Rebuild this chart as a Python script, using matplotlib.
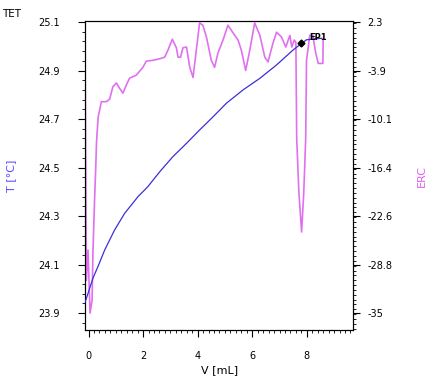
import numpy as np
import matplotlib.pyplot as plt
from matplotlib.ticker import FixedLocator, MultipleLocator

# temperature curve (left axis)
v_t = [-0.12, 0.16, 0.34, 0.59, 0.95, 1.32, 1.81, 2.17, 2.61, 3.09, 3.59,
       4.07, 4.56, 5.05, 5.66, 6.28, 6.89, 7.50, 7.81, 7.99, 8.17, 8.54]
temp = [23.947, 24.044, 24.091, 24.160, 24.242, 24.311, 24.380, 24.421, 24.483,
        24.545, 24.600, 24.655, 24.709, 24.765, 24.820, 24.868, 24.923, 24.985,
        25.012, 25.027, 25.029, 25.033]

# ERC curve (right axis)
v_erc = [-0.13, -0.10, -0.08, -0.02, 0.055, 0.13, 0.16, 0.22, 0.26, 0.29, 0.35,
         0.47, 0.65, 0.77, 0.89, 1.02, 1.14, 1.26, 1.38, 1.50, 1.75, 1.99,
         2.12, 2.36, 2.61, 2.79, 2.91, 3.07, 3.22, 3.28, 3.37, 3.46, 3.59,
         3.71, 3.83, 3.95, 4.07, 4.19, 4.32, 4.50, 4.62, 4.74, 4.93, 5.11,
         5.30, 5.48, 5.60, 5.76, 5.91, 6.09, 6.28, 6.46, 6.58, 6.76, 6.89,
         7.07, 7.23, 7.38, 7.45, 7.54, 7.60, 7.63, 7.71, 7.81, 7.89, 7.96,
         7.99, 8.11, 8.22, 8.33, 8.42, 8.59, 8.60]
erc = [0.0, -20.5, -30.8, -26.9, -35.0, -33.3, -27.2, -20.5, -16.7, -13.2, -9.9,
       -7.9, -7.9, -7.6, -6.0, -5.5, -6.2, -6.8, -5.8, -4.9, -4.5, -3.5,
       -2.7, -2.6, -2.4, -2.2, -1.3, 0.1, -1.0, -2.2, -2.2, -1.0, -0.9,
       -3.5, -4.8, -1.3, 2.2, 1.9, 0.4, -2.6, -3.5, -1.7, 0.0, 1.9,
       0.9, 0.0, -1.3, -3.9, -1.3, 2.2, 0.6, -2.2, -2.8, -0.4, 1.0,
       0.4, -0.9, 0.6, -0.9, 0.0, -0.3, -12.6, -19.5, -24.6, -19.5, -12.6,
       -2.6, 0.6, 0.6, -1.7, -3.0, -3.0, 0.2]

ep1_v, ep1_t = 7.80, 25.012

t_ticks = [23.9, 24.1, 24.3, 24.5, 24.7, 24.9, 25.1]
erc_ticks = [-35, -28.8, -22.6, -16.4, -10.1, -3.9, 2.3]
v_ticks = [0, 2, 4, 6, 8]

plt.rcParams['font.family'] = 'DejaVu Sans'
plt.rcParams['font.size'] = 7

fig = plt.figure(figsize=(4.36, 3.83), dpi=100)
ax = fig.add_axes([0.195, 0.138, 0.615, 0.807])
ax2 = ax.twinx()

ax.plot(v_t, temp, color='#3a2fd8', lw=0.9, zorder=3)
ax.plot([ep1_v], [ep1_t], marker='D', color='black', ms=3.5, zorder=4)
ax.text(ep1_v + 0.28, ep1_t + 0.012, 'EP1', fontsize=6, fontweight='bold')
ax2.plot(v_erc, erc, color='#e070f0', lw=1.2)
ax.set_zorder(ax2.get_zorder() + 1)
ax.patch.set_visible(False)

ax.set_xlim(-0.13, 9.7)
ax.set_ylim(23.83, 25.104)
ax2.set_ylim(-37.18, 2.43)

ax.xaxis.set_major_locator(FixedLocator(v_ticks))
ax.xaxis.set_minor_locator(MultipleLocator(0.2))
ax.yaxis.set_major_locator(FixedLocator(t_ticks))
ax.yaxis.set_minor_locator(FixedLocator(np.arange(23.86, 25.11, 0.04)))
ax.set_yticklabels(['%.1f' % t for t in t_ticks])

erc_pos = np.linspace(-35, 2.3, 7)
ax2.yaxis.set_major_locator(FixedLocator(erc_pos))
ax2.set_yticklabels([str(e) for e in erc_ticks])
ax2.yaxis.set_minor_locator(FixedLocator(np.arange(-37, 2.4, 37.3 / 60)))

ax.tick_params(which='major', length=5, width=0.8, pad=13)
ax.tick_params(axis='x', which='major', pad=10)
ax.tick_params(which='minor', length=2.5, width=0.6)
ax2.tick_params(which='major', length=5, width=0.8, pad=5)
ax2.tick_params(which='minor', length=2.5, width=0.6)

ax.set_xlabel('V [mL]', fontsize=8, labelpad=3)
ax.set_ylabel('T [°C]', fontsize=8, color='#5a4cff', labelpad=16)
ax2.set_ylabel('ERC', fontsize=8, color='#e060f0', labelpad=18)
fig.text(0.005, 0.955, 'TET', fontsize=7.5)

plt.savefig('out.png', dpi=100)
